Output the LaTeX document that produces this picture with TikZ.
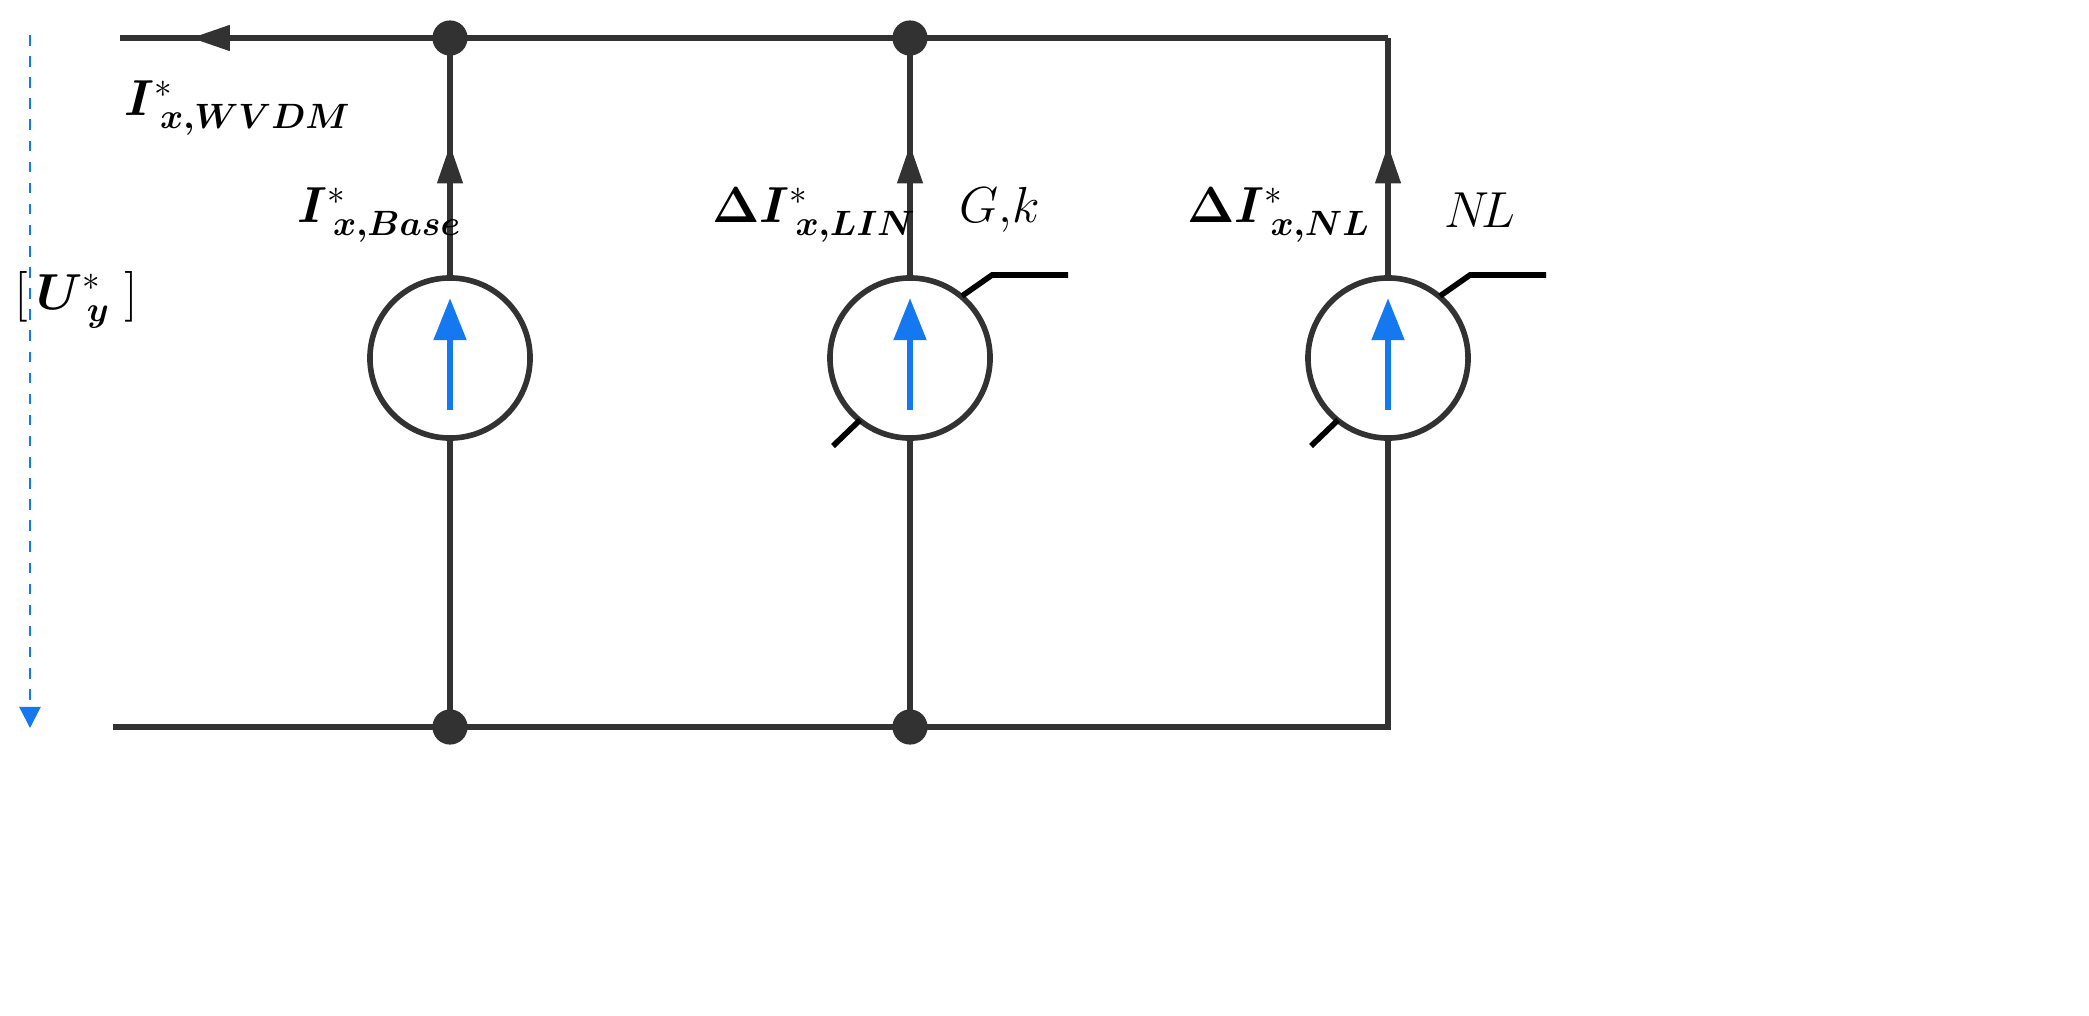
\documentclass[tikz,border=0pt]{standalone}
\usepackage{bm}
\usepackage{xcolor}
\definecolor{WireGray}{RGB}{50, 50, 50}
\definecolor{SrcBlue}{RGB}{20, 120, 240}
\usepackage{tikz}
\usetikzlibrary{arrows.meta, positioning, calc, decorations.markings}

\begin{document}
\begin{tikzpicture}[x=0.01cm, y=-0.01cm,
        wire/.style={draw=WireGray, line width=1.6pt},
        flow/.style={wire, postaction={decorate}, decoration={markings, mark=at position #1 with {\arrow{Triangle[length=11pt, width=7pt]}}}},
        dot/.style={circle, fill=WireGray, inner sep=0pt, minimum size=10pt},
        source/.style={circle, draw=WireGray, line width=1.6pt, minimum size=1.6cm, inner sep=0pt, fill=white},
        lbl/.style={font=\Large, anchor=west}
    ]
        \useasboundingbox (0,0) rectangle (2089,1015);

        % junctions
        \node[dot] (t1) at (450,38) {};
        \node[dot] (t2) at (910,38) {};
        \node[dot] (b1) at (450,727) {};
        \node[dot] (b2) at (910,727) {};
        \coordinate (t3) at (1388,38);
        \coordinate (b3) at (1388,727);
        \coordinate (tin) at (120,38);
        \coordinate (bin) at (113,727);

        % sources
        \node[source] (s1) at (450,358) {};
        \node[source] (s2) at (910,358) {};
        \node[source] (s3) at (1388,358) {};

        % rails
        \draw[flow=0.91] (t2.center) -- (tin);
        \draw[wire] (t3) -- (t2.center);
        \draw[wire] (bin) -- (b1.center) -- (b2.center) -- (b3) -- (s3.south);

        % branches
        \foreach \i/\t/\b in {s1/t1/b1, s2/t2/b2} {
            \draw[wire] (\b.center) -- (\i.south);
            \draw[flow=0.55] (\i.north) -- (\t.center);
        }
        \draw[flow=0.55] (s3.north) -- (t3);

        % inner arrows
        \foreach \i in {s1,s2,s3}
            \draw[SrcBlue, line width=1.8pt, -{Triangle[length=12pt, width=9pt]}] ($(\i)+(0,52)$) -- ($(\i)+(0,-60)$);

        % adjustable marks
        \foreach \i in {s2,s3} {
            \draw[black, line width=1.6pt] ($(\i)+(-77,88)$) -- ($(\i)+(-50,62)$);
            \draw[black, line width=1.6pt] ($(\i)+(52,-62)$) -- ($(\i)+(82,-83)$) -- ($(\i)+(158,-83)$);
        }
        \node[font=\Large] (gk) at (1000,210) {$G{,}k$};
        \node[font=\Large] (nl) at (1480,210) {$N\!L$};

        % labels
        \node[lbl] (iw) at (112,108) {$\bm{I}^{*}_{\;\bm{x,WVDM}}$};
        \node[lbl] (ib) at (285,215) {$\bm{I}^{*}_{\;\bm{x,Base}}$};
        \node[lbl] (il) at (700,215) {$\bm{\Delta I}^{*}_{\;\bm{x,LIN}}$};
        \node[lbl] (in) at (1175,215) {$\bm{\Delta I}^{*}_{\;\bm{x,NL}}$};
        \node[font=\Large, anchor=west] (uy) at (2,300) {$[\,\bm{U}^{*}_{\;\bm{y}}\;]$};

        % voltage
        \coordinate (vt) at (30,35);
        \coordinate (vb) at (30,728);
        \draw[SrcBlue, dashed, line width=0.6pt, -{Triangle[length=6pt, width=6pt]}] (vt) -- (vb);
    \end{tikzpicture}
\end{document}
